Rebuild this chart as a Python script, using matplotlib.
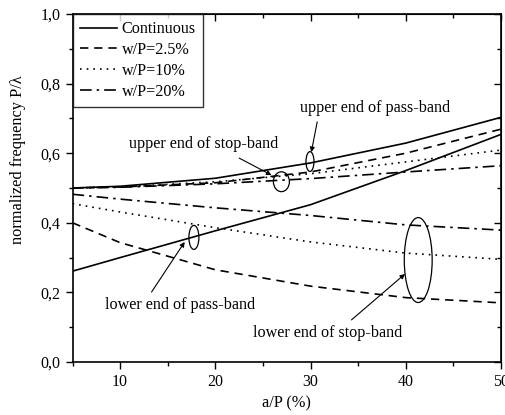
import numpy as np
import matplotlib
matplotlib.use('Agg')
import matplotlib.pyplot as plt
from matplotlib.patches import Ellipse
from matplotlib.ticker import MultipleLocator, FuncFormatter

plt.rcParams['font.family'] = ['Liberation Serif', 'DejaVu Serif']

# a/P (%)
x = [5, 10, 20, 30, 40, 50]

# upper curves (pass-band / stop-band upper ends)
cont_up = [0.500, 0.505, 0.528, 0.572, 0.629, 0.703]
wp25_up = [0.500, 0.503, 0.515, 0.546, 0.600, 0.669]
wp10_up = [0.500, 0.503, 0.518, 0.541, 0.575, 0.609]
wp20_up = [0.500, 0.502, 0.512, 0.527, 0.546, 0.564]

# lower curves
cont_lo = [0.261, 0.300, 0.377, 0.452, 0.550, 0.654]
wp25_lo = [0.400, 0.343, 0.265, 0.218, 0.185, 0.170]
wp10_lo = [0.455, 0.431, 0.386, 0.345, 0.313, 0.295]
wp20_lo = [0.482, 0.468, 0.443, 0.421, 0.394, 0.379]

fig = plt.figure(figsize=(5.05, 4.15), dpi=100)
ax = fig.add_axes([0.1436, 0.1277, 0.8484, 0.8386])

ls_dash = (0, (5, 3.5))
ls_dot = (0, (1, 3))
ls_dashdot = (0, (7, 3, 1.5, 3))

ax.plot(x, cont_up, color='k', lw=1.2, ls='-', label='Continuous')
ax.plot(x, wp25_up, color='k', lw=1.2, ls=ls_dash, label='w/P=2.5%')
ax.plot(x, wp10_up, color='k', lw=1.2, ls=ls_dot, label='w/P=10%')
ax.plot(x, wp20_up, color='k', lw=1.2, ls=ls_dashdot, label='w/P=20%')
ax.plot(x, cont_lo, color='k', lw=1.2, ls='-')
ax.plot(x, wp25_lo, color='k', lw=1.2, ls=ls_dash)
ax.plot(x, wp10_lo, color='k', lw=1.2, ls=ls_dot)
ax.plot(x, wp20_lo, color='k', lw=1.2, ls=ls_dashdot)

ax.set_xlim(5, 50)
ax.set_ylim(0, 1.0)

# ellipses marking groups of curves
for cx, cy, w, h in [(29.94, 0.576, 0.84, 0.057),
                     (26.94, 0.518, 1.68, 0.057),
                     (17.75, 0.358, 1.05, 0.069),
                     (41.31, 0.293, 2.93, 0.244)]:
    ax.add_patch(Ellipse((cx, cy), w, h, fill=False, ec='k', lw=0.9))

akw = dict(arrowprops=dict(arrowstyle='-|>', color='k', lw=0.8,
                           mutation_scale=7, shrinkA=0, shrinkB=0))
ax.annotate('', xy=(30.08, 0.603), xytext=(30.7, 0.690), **akw)
ax.annotate('', xy=(25.9, 0.537), xytext=(22.5, 0.586), **akw)
ax.annotate('', xy=(16.78, 0.345), xytext=(13.3, 0.201), **akw)
ax.annotate('', xy=(39.92, 0.253), xytext=(34.3, 0.121), **akw)

tkw = dict(ha='center', va='center', fontsize=11.6)
ax.text(36.8, 0.730, 'upper end of pass-band', **tkw)
ax.text(18.8, 0.625, 'upper end of stop-band', **tkw)
ax.text(16.3, 0.163, 'lower end of pass-band', **tkw)
ax.text(31.8, 0.083, 'lower end of stop-band', **tkw)

ax.set_xlabel('a/P (%)', fontsize=11.8)
ax.set_ylabel('normalized frequency P/λ', fontsize=11.8)
ax.yaxis.set_label_coords(-0.108, 0.58)

ax.xaxis.set_major_locator(MultipleLocator(10))
ax.xaxis.set_minor_locator(MultipleLocator(5))
ax.yaxis.set_major_locator(MultipleLocator(0.2))
ax.yaxis.set_minor_locator(MultipleLocator(0.1))
ax.yaxis.set_major_formatter(FuncFormatter(lambda v, p: ('%.1f' % v).replace('.', ',')))
ax.tick_params(which='both', direction='out', labelsize=11.5, width=1)
ax.tick_params(which='major', length=5)
ax.tick_params(which='minor', length=3)
for s in ax.spines.values():
    s.set_linewidth(1.2)

# mirrored ticks on top and right, pointing inward
axt = ax.secondary_xaxis('top')
axt.xaxis.set_major_locator(MultipleLocator(10))
axt.xaxis.set_minor_locator(MultipleLocator(5))
axt.tick_params(which='both', direction='in', labeltop=False, width=1)
axt.tick_params(which='major', length=5)
axt.tick_params(which='minor', length=3)
axr = ax.secondary_yaxis('right')
axr.yaxis.set_major_locator(MultipleLocator(0.2))
axr.yaxis.set_minor_locator(MultipleLocator(0.1))
axr.tick_params(which='both', direction='in', labelright=False, width=1)
axr.tick_params(which='major', length=5)
axr.tick_params(which='minor', length=3)

leg = ax.legend(loc='upper left', fontsize=11.6, frameon=True, fancybox=False,
                edgecolor='k', borderpad=0.45, handlelength=2.3, handletextpad=0.3,
                labelspacing=0.3, borderaxespad=0)
leg.get_frame().set_linewidth(1.0)

fig.savefig('out.png', dpi=100)
